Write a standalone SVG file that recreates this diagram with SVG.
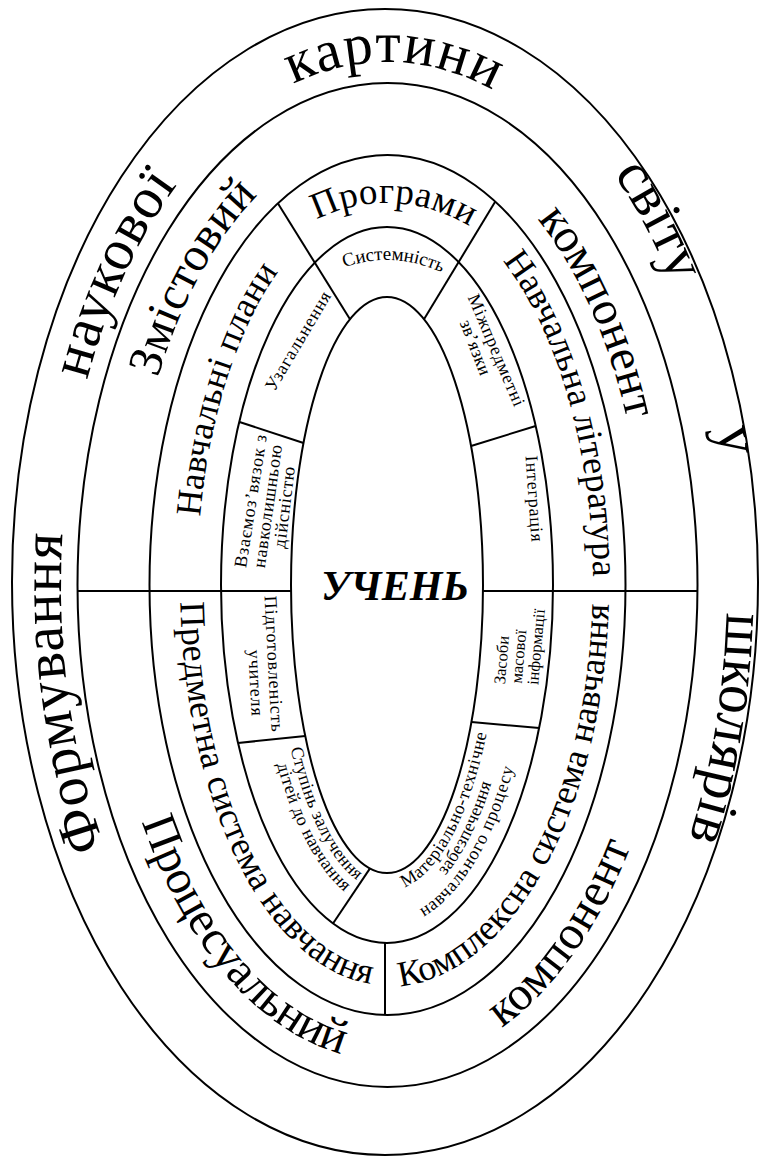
<svg xmlns="http://www.w3.org/2000/svg" xmlns:xlink="http://www.w3.org/1999/xlink" width="767" height="1159" viewBox="0 0 767 1159">
<style>
.ln{fill:none;stroke:#000;stroke-width:2}
.t{font-family:"Liberation Serif","DejaVu Serif","Times New Roman",serif;fill:#000}
.o{font-size:58px}
.r2{font-size:48px}
.r3{font-size:36px}
.s{font-size:18px}
.xs{font-size:16.5px}
</style>
<defs>
<path id="p-form" d="M 105.9 850 A 326 523 0 0 1 62.8 530.3"/>
<path id="p-nauk" d="M 86.9 380.7 A 326 523 0 0 1 177.5 184.4"/>
<path id="p-kart" d="M 289 86.2 A 326 523 0 0 1 496.9 92.6"/>
<path id="p-svit" d="M 613.2 173.6 A 340 551 0 0 1 671.8 284.1"/>
<path id="p-u" d="M 710.3 396.6 A 344 551 0 0 1 725.8 489.3"/>
<path id="p-shk" d="M 727 585 A 340 551 0 0 1 679.9 864.6"/>
<path id="p-zmist" d="M 157.9 377.9 A 258 450 0 0 1 258 195.3"/>
<path id="p-komp1" d="M 537.9 220 A 258 450 0 0 1 626.7 418.6"/>
<path id="p-proc" d="M 140.7 818.9 A 283 475 0 0 0 344.2 1054.5"/>
<path id="p-komp2" d="M 499.4 1029.4 A 290 482 0 0 0 631.8 843.3"/>
<path id="p-plany" d="M 199.9 518.7 A 190 382 0 0 1 279.4 270.2"/>
<path id="p-progr" d="M 304.9 226 A 240 382 0 0 1 480.8 233.4"/>
<path id="p-lit" d="M 500.4 257.8 A 206 392 0 0 1 593 580.2"/>
<path id="p-predm" d="M 180.2 600.4 A 207 400 0 0 0 372.2 984"/>
<path id="p-kompl" d="M 398.2 986.5 A 222 402 0 0 0 608.8 602.5"/>
<path id="p-syst" d="M 343 268 A 200 325 0 0 1 443.1 273.1"/>
<path id="p-stup1" d="M 288.8 740.3 A 114 306 0 0 0 363.7 884.5"/>
<path id="p-stup2" d="M 274.8 755.7 A 132 324 0 0 0 351.7 897.2"/>
<path id="p-mat1" d="M 394.2 890.4 A 114 306 0 0 0 488.8 722.5"/>
<path id="p-mat2" d="M 438.4 883.5 A 132 324 0 0 0 494.5 773.1"/>
<path id="p-mat3" d="M 412.8 921.9 A 150 342 0 0 0 516.9 756"/>
</defs>
<rect x="0" y="0" width="767" height="1159" fill="#fff"/>

<g id="rings">
<ellipse class="ln" cx="385" cy="582" rx="373" ry="573"/>
<ellipse class="ln" cx="387.5" cy="585" rx="310" ry="502"/>
<ellipse class="ln" cx="387.5" cy="585" rx="238" ry="430"/>
<ellipse class="ln" cx="387" cy="585" rx="166" ry="358"/>
<ellipse class="ln" cx="387" cy="585" rx="96" ry="288"/>
</g>

<g id="connectors">
<line class="ln" x1="278" y1="203.5" x2="350" y2="319.3"/>
<line class="ln" x1="495" y1="202" x2="424" y2="319.3"/>
<line class="ln" x1="239.5" y1="422" x2="303.5" y2="443"/>
<line class="ln" x1="471.1" y1="446" x2="535.7" y2="426"/>
<line class="ln" x1="77.5" y1="591" x2="291" y2="591"/>
<line class="ln" x1="483" y1="591" x2="697.5" y2="591"/>
<line class="ln" x1="238" y1="743" x2="305.3" y2="736"/>
<line class="ln" x1="471.4" y1="722" x2="539.2" y2="728"/>
<line class="ln" x1="370" y1="868.4" x2="333" y2="923.5"/>
<line class="ln" x1="385" y1="943" x2="385" y2="1015"/>
</g>

<g id="outer-ring" class="t o">
<text><textPath xlink:href="#p-form" href="#p-form" startOffset="50%" text-anchor="middle" textLength="318" lengthAdjust="spacing">Формування</textPath></text>
<text><textPath xlink:href="#p-nauk" href="#p-nauk" startOffset="50%" text-anchor="middle" textLength="216" lengthAdjust="spacing">наукової</textPath></text>
<text><textPath xlink:href="#p-kart" href="#p-kart" startOffset="50%" text-anchor="middle" textLength="208" lengthAdjust="spacing">картини</textPath></text>
<text><textPath xlink:href="#p-svit" href="#p-svit" startOffset="50%" text-anchor="middle" textLength="124" lengthAdjust="spacing">світу</textPath></text>
<text><textPath xlink:href="#p-u" href="#p-u" startOffset="50%" text-anchor="middle">у</textPath></text>
<text><textPath xlink:href="#p-shk" href="#p-shk" startOffset="50%" text-anchor="middle" textLength="230" lengthAdjust="spacing">школярів</textPath></text>
</g>

<g id="content-component" class="t r2">
<text><textPath xlink:href="#p-zmist" href="#p-zmist" startOffset="50%" text-anchor="middle" textLength="210" lengthAdjust="spacing">Змістовий</textPath></text>
<text><textPath xlink:href="#p-komp1" href="#p-komp1" startOffset="50%" text-anchor="middle" textLength="221" lengthAdjust="spacing">компонент</textPath></text>
</g>

<g id="process-component" class="t r2">
<text><textPath xlink:href="#p-proc" href="#p-proc" startOffset="50%" text-anchor="middle" textLength="318" lengthAdjust="spacing">Процесуальний</textPath></text>
<text><textPath xlink:href="#p-komp2" href="#p-komp2" startOffset="50%" text-anchor="middle" textLength="226" lengthAdjust="spacing">компонент</textPath></text>
</g>

<g id="navchalni-plany" class="t r3">
<text><textPath xlink:href="#p-plany" href="#p-plany" startOffset="50%" text-anchor="middle" textLength="260" lengthAdjust="spacing">Навчальні плани</textPath></text>
</g>
<g id="prohramy" class="t r3">
<text style="font-size:37px"><textPath xlink:href="#p-progr" href="#p-progr" startOffset="50%" text-anchor="middle" textLength="160" lengthAdjust="spacing">Програми</textPath></text>
</g>
<g id="navchalna-literatura" class="t r3">
<text><textPath xlink:href="#p-lit" href="#p-lit" startOffset="50%" text-anchor="middle" textLength="334" lengthAdjust="spacing">Навчальна література</textPath></text>
</g>
<g id="predmetna-systema" class="t r3">
<text><textPath xlink:href="#p-predm" href="#p-predm" startOffset="50%" text-anchor="middle" textLength="455" lengthAdjust="spacing">Предметна система навчання</textPath></text>
</g>
<g id="kompleksna-systema" class="t r3">
<text><textPath xlink:href="#p-kompl" href="#p-kompl" startOffset="50%" text-anchor="middle" textLength="468" lengthAdjust="spacing">Комплексна система навчання</textPath></text>
</g>

<g id="systemnist" class="t">
<text style="font-size:19px"><textPath xlink:href="#p-syst" href="#p-syst" startOffset="50%" text-anchor="middle" textLength="100" lengthAdjust="spacing">Системність</textPath></text>
</g>
<g id="uzahalnennia" class="t s">
<text transform="translate(303,344) rotate(-59.4)" text-anchor="middle" textLength="112" lengthAdjust="spacing">Узагальнення</text>
</g>
<g id="vzaiemozviazok" class="t s">
<text transform="translate(256.5,502) rotate(-81)" text-anchor="middle" textLength="134" lengthAdjust="spacing">Взаємоз’вязок з</text>
<text transform="translate(273.5,507) rotate(-82)" text-anchor="middle" textLength="124" lengthAdjust="spacing">навколишньою</text>
<text transform="translate(290,508) rotate(-83)" text-anchor="middle" textLength="82" lengthAdjust="spacing">дійсністю</text>
</g>
<g id="pidhotovlenist" class="t s">
<text transform="translate(268,664) rotate(87)" text-anchor="middle" textLength="136" lengthAdjust="spacing">Підготовленість</text>
<text transform="translate(250,683) rotate(87)" text-anchor="middle" textLength="66" lengthAdjust="spacing">учителя</text>
</g>
<g id="stupin-zaluchennia" class="t s">
<text><textPath xlink:href="#p-stup1" href="#p-stup1" startOffset="50%" text-anchor="middle" textLength="150" lengthAdjust="spacing">Ступінь залучення</textPath></text>
<text><textPath xlink:href="#p-stup2" href="#p-stup2" startOffset="50%" text-anchor="middle" textLength="146" lengthAdjust="spacing">дітей до навчання</textPath></text>
</g>
<g id="materialno-tekhnichne" class="t s">
<text><textPath xlink:href="#p-mat1" href="#p-mat1" startOffset="50%" text-anchor="middle" textLength="180" lengthAdjust="spacing">Матеріально-технічне</textPath></text>
<text><textPath xlink:href="#p-mat2" href="#p-mat2" startOffset="50%" text-anchor="middle" textLength="104" lengthAdjust="spacing">забезпечення</textPath></text>
<text><textPath xlink:href="#p-mat3" href="#p-mat3" startOffset="50%" text-anchor="middle" textLength="178" lengthAdjust="spacing">навчального процесу</textPath></text>
</g>
<g id="zasoby-mi" class="t xs">
<text transform="translate(507,660.4) rotate(-85)" text-anchor="middle">Засоби</text>
<text transform="translate(524,657) rotate(-85)" text-anchor="middle">масової</text>
<text transform="translate(541.5,647.4) rotate(-85)" text-anchor="middle">інформації</text>
</g>
<g id="intehratsiia" class="t s">
<text transform="translate(528.5,499) rotate(86)" text-anchor="middle" textLength="86" lengthAdjust="spacing">Інтеграція</text>
</g>
<g id="mizhpredmetni" class="t s">
<text transform="translate(491,352.5) rotate(67)" text-anchor="middle" textLength="120" lengthAdjust="spacing">Міжпредметні</text>
<text transform="translate(470,349.5) rotate(69)" text-anchor="middle" textLength="58" lengthAdjust="spacing">зв’язки</text>
</g>

<g id="uchen">
<text class="t" x="395" y="600" text-anchor="middle" style="font-size:42px;font-weight:bold;font-style:italic">УЧЕНЬ</text>
</g>
</svg>
